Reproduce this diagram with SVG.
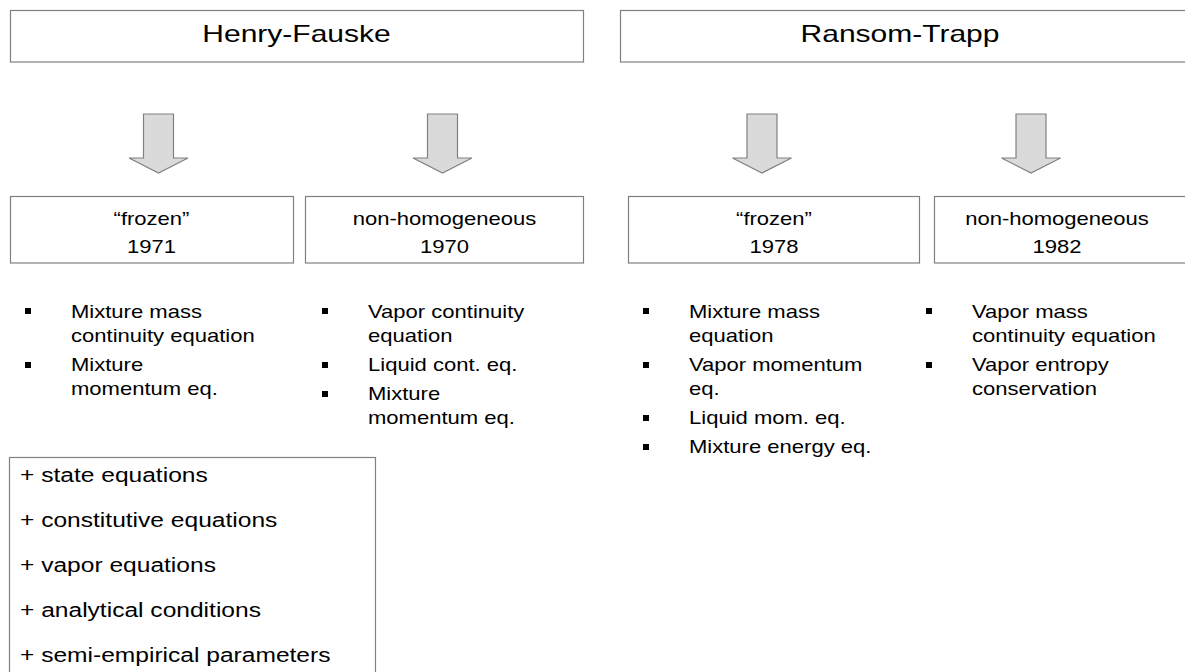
<svg xmlns="http://www.w3.org/2000/svg" xmlns:xlink="http://www.w3.org/1999/xlink" width="1185" height="672" viewBox="0 0 1185 672">
  <style>
    .box { fill: #ffffff; stroke: #808080; stroke-width: 1.2; }
    .arr { fill: #dadada; stroke: #808080; stroke-width: 1.2; stroke-linejoin: miter; }
    text { font-family: "Liberation Sans", Arial, sans-serif; fill: #000000; }
    .title { font-size: 24px; }
    .sub { font-size: 19px; }
    .li { font-size: 19px; }
    .ex { font-size: 21px; }
    .mid { text-anchor: middle; }
    .bul { fill: #000000; }
  </style>
  <defs>
    <path id="blockArrow" d="M-15,0 H15 V44 H29.5 L0,59 L-29.5,44 H-15 Z"/>
    <rect id="bullet" x="0" y="0" width="6" height="6"/>
  </defs>
  <rect width="1185" height="672" fill="#ffffff"/>

  <g id="connectors">
    <use xlink:href="#blockArrow" href="#blockArrow" class="arr" transform="translate(158.5,114)"/>
    <use xlink:href="#blockArrow" href="#blockArrow" class="arr" transform="translate(442.5,114)"/>
    <use xlink:href="#blockArrow" href="#blockArrow" class="arr" transform="translate(762,114)"/>
    <use xlink:href="#blockArrow" href="#blockArrow" class="arr" transform="translate(1031,114)"/>
  </g>

  <g id="henry-fauske">
    <rect class="box" x="10.5" y="10.5" width="573" height="51.5"/>
    <text class="title mid" transform="translate(296.5,42) scale(1.25,1)">Henry-Fauske</text>
  </g>

  <g id="ransom-trapp">
    <rect class="box" x="620.5" y="10.5" width="580" height="51.5"/>
    <text class="title mid" transform="translate(900,42) scale(1.25,1)">Ransom-Trapp</text>
  </g>

  <g id="hf-frozen">
    <rect class="box" x="10.5" y="196.5" width="283" height="66.5"/>
    <text class="sub mid" transform="translate(151.5,225) scale(1.16,1)">“frozen”</text>
    <text class="sub mid" transform="translate(151.5,253) scale(1.16,1)">1971</text>
  </g>

  <g id="hf-nonhomogeneous">
    <rect class="box" x="305.5" y="196.5" width="278" height="66.5"/>
    <text class="sub mid" transform="translate(444.5,225) scale(1.16,1)">non-homogeneous</text>
    <text class="sub mid" transform="translate(444.5,253) scale(1.16,1)">1970</text>
  </g>

  <g id="rt-frozen">
    <rect class="box" x="628.5" y="196.5" width="291" height="66.5"/>
    <text class="sub mid" transform="translate(774,225) scale(1.16,1)">“frozen”</text>
    <text class="sub mid" transform="translate(774,253) scale(1.16,1)">1978</text>
  </g>

  <g id="rt-nonhomogeneous">
    <rect class="box" x="934.5" y="196.5" width="260" height="66.5"/>
    <text class="sub mid" transform="translate(1057,225) scale(1.16,1)">non-homogeneous</text>
    <text class="sub mid" transform="translate(1057,253) scale(1.16,1)">1982</text>
  </g>

  <g id="hf-frozen-list">
    <use xlink:href="#bullet" href="#bullet" class="bul" x="25" y="308"/>
    <text class="li" transform="translate(71,318) scale(1.16,1)">Mixture mass<tspan x="0" y="24">continuity equation</tspan></text>
    <use xlink:href="#bullet" href="#bullet" class="bul" x="25" y="362"/>
    <text class="li" transform="translate(71,371) scale(1.16,1)">Mixture<tspan x="0" y="24">momentum eq.</tspan></text>
  </g>

  <g id="hf-nonhomogeneous-list">
    <use xlink:href="#bullet" href="#bullet" class="bul" x="322" y="308"/>
    <text class="li" transform="translate(368,318) scale(1.16,1)">Vapor continuity<tspan x="0" y="24">equation</tspan></text>
    <use xlink:href="#bullet" href="#bullet" class="bul" x="322" y="362"/>
    <text class="li" transform="translate(368,371) scale(1.16,1)">Liquid cont. eq.</text>
    <use xlink:href="#bullet" href="#bullet" class="bul" x="322" y="391"/>
    <text class="li" transform="translate(368,400) scale(1.16,1)">Mixture<tspan x="0" y="24">momentum eq.</tspan></text>
  </g>

  <g id="rt-frozen-list">
    <use xlink:href="#bullet" href="#bullet" class="bul" x="643" y="308"/>
    <text class="li" transform="translate(689,318) scale(1.16,1)">Mixture mass<tspan x="0" y="24">equation</tspan></text>
    <use xlink:href="#bullet" href="#bullet" class="bul" x="643" y="362"/>
    <text class="li" transform="translate(689,371) scale(1.16,1)">Vapor momentum<tspan x="0" y="24">eq.</tspan></text>
    <use xlink:href="#bullet" href="#bullet" class="bul" x="643" y="415"/>
    <text class="li" transform="translate(689,424) scale(1.16,1)">Liquid mom. eq.</text>
    <use xlink:href="#bullet" href="#bullet" class="bul" x="643" y="444"/>
    <text class="li" transform="translate(689,453) scale(1.16,1)">Mixture energy eq.</text>
  </g>

  <g id="rt-nonhomogeneous-list">
    <use xlink:href="#bullet" href="#bullet" class="bul" x="926" y="308"/>
    <text class="li" transform="translate(972,318) scale(1.16,1)">Vapor mass<tspan x="0" y="24">continuity equation</tspan></text>
    <use xlink:href="#bullet" href="#bullet" class="bul" x="926" y="362"/>
    <text class="li" transform="translate(972,371) scale(1.16,1)">Vapor entropy<tspan x="0" y="24">conservation</tspan></text>
  </g>

  <g id="additional-equations">
    <rect class="box" x="9.5" y="457.5" width="366" height="230"/>
    <text class="ex" transform="translate(20,482) scale(1.17,1)">+ state equations</text>
    <text class="ex" transform="translate(20,527) scale(1.17,1)">+ constitutive equations</text>
    <text class="ex" transform="translate(20,572) scale(1.17,1)">+ vapor equations</text>
    <text class="ex" transform="translate(20,617) scale(1.17,1)">+ analytical conditions</text>
    <text class="ex" transform="translate(20,662) scale(1.17,1)">+ semi-empirical parameters</text>
  </g>
</svg>
